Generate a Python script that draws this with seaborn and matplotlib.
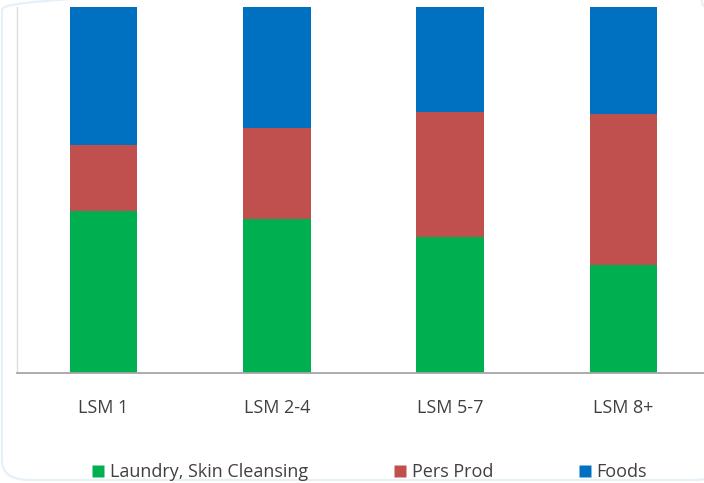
import matplotlib
matplotlib.use("Agg")
import matplotlib.pyplot as plt
from matplotlib.patches import FancyBboxPatch
from matplotlib.lines import Line2D
import seaborn as sns
import pandas as pd
import numpy as np

# Share of spend by LSM group (%)
categories = ["LSM 1", "LSM 2-4", "LSM 5-7", "LSM 8+"]
laundry = [44.3, 42.1, 37.2, 29.5]
pers_prod = [18.0, 24.9, 34.2, 41.3]
foods = [37.7, 33.0, 28.6, 29.2]

series_names = ["Laundry, Skin Cleansing", "Pers Prod", "Foods"]
colors = ["#00B050", "#C0504D", "#0070C0"]

sns.set_theme(style="white")
plt.rcParams["font.family"] = ["Open Sans", "DejaVu Sans"]

df = pd.DataFrame({
    "cat": categories,
    "laundry": laundry,
    "pers": pers_prod,
    "foods": foods,
})
df["top_pers"] = df["laundry"] + df["pers"]
df["top_foods"] = df["top_pers"] + df["foods"]

fig = plt.figure(figsize=(7.04, 4.83), dpi=100)
W, H = 704, 483
ax = fig.add_axes([17 / W, 110 / H, 693 / W, 366 / H])

# stacked bars: draw cumulative totals back to front
for col, c in zip(["top_foods", "top_pers", "laundry"], colors[::-1]):
    sns.barplot(data=df, x="cat", y=col, color=c, width=0.39,
                saturation=1, ax=ax, edgecolor="none", linewidth=0)

ax.set_xlim(-0.5, 3.5)
ax.set_ylim(0, 100)
ax.set_xlabel("")
ax.set_ylabel("")
ax.set_yticks([])

for s in ["top", "right"]:
    ax.spines[s].set_visible(False)
ax.spines["left"].set_color("#dedede")
ax.spines["left"].set_linewidth(1.0)
ax.spines["bottom"].set_color("#a6a6a6")
ax.spines["bottom"].set_linewidth(1.3)

ax.tick_params(axis="x", which="major", length=0, pad=19,
               labelsize=13, labelcolor="#404040")
ax.set_xticks(np.arange(-0.5, 4.0, 1.0), minor=True)
ax.tick_params(axis="x", which="minor", length=5, width=1.0,
               color="#a6a6a6", direction="out")

handles = [Line2D([0], [0], marker="s", linestyle="none", markersize=9,
                  markerfacecolor=c, markeredgecolor="none") for c in colors]
fig.legend(handles, series_names, loc="center", bbox_to_anchor=(368 / W, 1 - 472 / H),
           ncol=3, frameon=False, fontsize=13, handlelength=1.0,
           handletextpad=0.15, columnspacing=4.6, labelcolor="#404040")

# soft rounded chart frame
frame = FancyBboxPatch((2 / W, 3 / H), 720 / W, 490 / H,
                       boxstyle="round,pad=0,rounding_size=0.04",
                       transform=fig.transFigure, fill=False,
                       edgecolor="#e6f0f7", linewidth=1.6, zorder=-1)
fig.patches.append(frame)

fig.savefig("out.png", dpi=100)
